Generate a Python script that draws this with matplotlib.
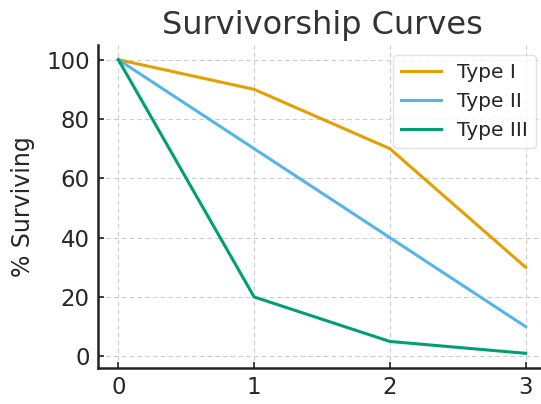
import matplotlib
matplotlib.use("Agg")
import matplotlib.pyplot as plt

age = [0, 1, 2, 3]
type1 = [100, 90, 70, 30]
type2 = [100, 70, 40, 10]
type3 = [100, 20, 5, 1]
labels = ["Type I", "Type II", "Type III"]
colors = ["#E69F00", "#56B4E9", "#009E73"]
xticks = [0, 1, 2, 3]
yticks = [0, 20, 40, 60, 80, 100]

plt.rcParams['font.family'] = ['DejaVu Sans']
text_color = "#262626"

fig = plt.figure(figsize=(5.41, 4.04), dpi=100)
ax = fig.add_axes([98/541, 1-368/404, (546-98)/541, (368-45)/404])

for y, lab, c in zip([type1, type2, type3], labels, colors):
    ax.plot(age, y, color=c, lw=2.2, label=lab)

ax.set_xticks(xticks)
ax.set_yticks(yticks)
ax.grid(True, linestyle=(0, (4, 3)), color="#cccccc", lw=0.8)
ax.set_axisbelow(True)
for s in ["top", "right"]:
    ax.spines[s].set_visible(False)
for s in ["left", "bottom"]:
    ax.spines[s].set_linewidth(1.8)
    ax.spines[s].set_color("#222222")
ax.tick_params(direction="in", length=4, width=1.2, labelsize=16.5, colors="#222222", labelcolor=text_color, pad=6)
ax.set_ylabel("% Surviving", fontsize=17, color=text_color, labelpad=8)
ax.set_title("Survivorship Curves", fontsize=23, color="#333333", pad=8)
leg = ax.legend(loc="upper right", fontsize=14.5, frameon=True, fancybox=True, edgecolor="#dddddd", handlelength=2.0, borderaxespad=0.5)
for t in leg.get_texts():
    t.set_color(text_color)

fig.savefig("out.png", dpi=100)
